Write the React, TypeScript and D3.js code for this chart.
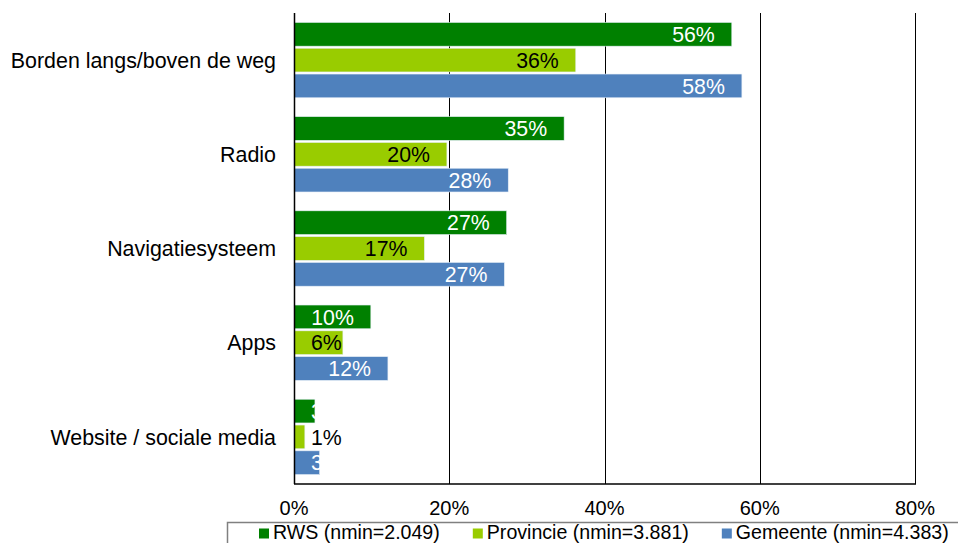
import React from "react";
import * as d3 from "d3";

const categories = [
  "Borden langs/boven de weg",
  "Radio",
  "Navigatiesysteem",
  "Apps",
  "Website / sociale media",
];
const seriesNames = [
  "RWS (nmin=2.049)",
  "Provincie (nmin=3.881)",
  "Gemeente (nmin=4.383)",
];
const rwsValues = [56.4, 34.8, 27.4, 9.9, 2.7];
const provincieValues = [36.3, 19.7, 16.8, 6.3, 1.4];
const gemeenteValues = [57.7, 27.6, 27.1, 12.1, 3.3];
const seriesColors = ["#008000", "#99CC00", "#4F81BD"];
const labelColors = ["#ffffff", "#000000", "#ffffff"];
const xTicks = [0, 20, 40, 60, 80];

const W = 958;
const H = 543;
const FONT = "'Liberation Sans', Arial, sans-serif";

let ctx: CanvasRenderingContext2D | null = null;
function textWidth(t: string, size: number) {
  if (!ctx) ctx = document.createElement("canvas").getContext("2d");
  if (!ctx) return t.length * size * 0.55;
  ctx.font = `${size}px ${FONT}`;
  return ctx.measureText(t).width;
}

export default function App() {
  const series = [rwsValues, provincieValues, gemeenteValues];
  const plotLeft = 294;
  const plotRight = 915;
  const plotTop = 13;
  const plotBottom = 484;

  const x = d3.scaleLinear().domain([0, 80]).range([plotLeft, plotRight]);
  const y = d3
    .scaleBand<string>()
    .domain(categories)
    .range([plotTop, plotBottom])
    .padding(0);
  const bandH = y.bandwidth();
  const inner = d3
    .scaleBand<number>()
    .domain([0, 1, 2])
    .range([bandH * 0.1, bandH * 0.9])
    .paddingInner(0.08)
    .paddingOuter(0);

  const labelSize = 21.3;
  const minLabelX = plotLeft + 17;

  // legend layout
  const legendSize = 19.6;
  let lx = 259;
  const legendItems = seriesNames.map((name, i) => {
    const item = { name, i, sx: lx, tx: lx + 14 };
    lx = lx + 14 + textWidth(name, legendSize) + 33;
    return item;
  });

  return (
    <svg
      width={W}
      height={H}
      style={{ position: "absolute", left: 0, top: 0, background: "#fff" }}
      fontFamily={FONT}
    >
      <rect x={0} y={0} width={W} height={H} fill="#fff" />
      {/* gridlines */}
      {xTicks.map((t) => (
        <line
          key={"g" + t}
          x1={Math.round(x(t)) + 0.5}
          x2={Math.round(x(t)) + 0.5}
          y1={plotTop}
          y2={plotBottom}
          stroke="#000"
          strokeWidth={1}
        />
      ))}
      {/* bars */}
      {categories.map((c, ci) =>
        series.map((vals, si) => {
          const v = vals[ci];
          const by = (y(c) as number) + (inner(si) as number);
          const bh = inner.bandwidth();
          const xe = x(v);
          const label = `${Math.round(v)}%`;
          const w = textWidth(label, labelSize);
          let tx = xe - 17 - w;
          if (tx < minLabelX) tx = minLabelX;
          return (
            <g key={c + si}>
              <rect
                x={plotLeft}
                y={by}
                width={xe - plotLeft}
                height={bh}
                fill={seriesColors[si]}
                stroke="#e6eef7"
                strokeWidth={0.6}
              />
              <text
                x={tx}
                y={by + bh / 2}
                dy="0.36em"
                fontSize={labelSize}
                fill={labelColors[si]}
              >
                {label}
              </text>
            </g>
          );
        })
      )}
      {/* axis lines */}
      <line
        x1={plotLeft + 0.5}
        x2={plotLeft + 0.5}
        y1={plotTop}
        y2={plotBottom}
        stroke="#000"
        strokeWidth={1.5}
      />
      <line
        x1={plotLeft}
        x2={plotRight + 1}
        y1={plotBottom}
        y2={plotBottom}
        stroke="#000"
        strokeWidth={1.5}
      />
      {/* category labels */}
      {categories.map((c) => (
        <text
          key={"c" + c}
          x={plotLeft - 18}
          y={(y(c) as number) + bandH / 2}
          dy="0.36em"
          textAnchor="end"
          fontSize={21.4}
          fill="#000"
        >
          {c}
        </text>
      ))}
      {/* x tick labels */}
      {xTicks.map((t) => (
        <text
          key={"t" + t}
          x={x(t)}
          y={515}
          textAnchor="middle"
          fontSize={20}
          fill="#000"
        >
          {`${t}%`}
        </text>
      ))}
      {/* legend */}
      <rect
        x={227.5}
        y={522.5}
        width={760}
        height={40}
        fill="#fff"
        stroke="#808080"
        strokeWidth={1.5}
      />
      {legendItems.map((it) => (
        <g key={"l" + it.i}>
          <rect x={it.sx} y={528.5} width={10} height={10} fill={seriesColors[it.i]} />
          <text x={it.tx} y={538.5} fontSize={legendSize} fill="#000">
            {it.name}
          </text>
        </g>
      ))}
    </svg>
  );
}
